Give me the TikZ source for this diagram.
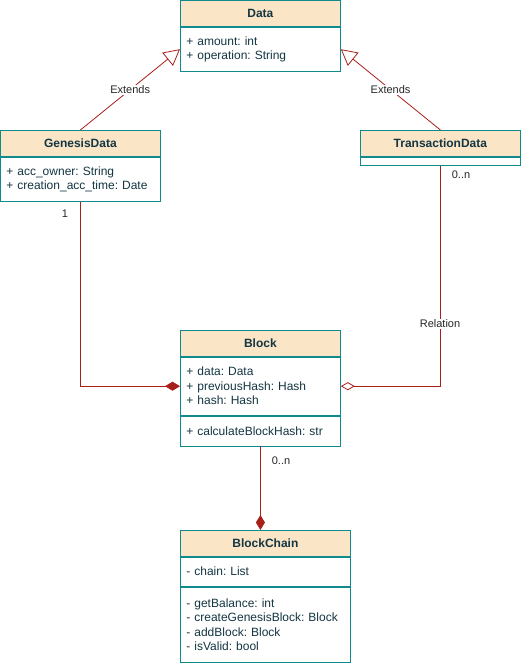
\documentclass[tikz,border=0pt]{standalone}
\usepackage{fontspec}
\setmainfont{Liberation Sans}
\usetikzlibrary{arrows.meta,positioning}
\definecolor{umlfill}{HTML}{FAE5C7}
\definecolor{umlline}{HTML}{0F8B8D}
\definecolor{umltext}{HTML}{143642}
\definecolor{umledge}{HTML}{A8201A}
\frenchspacing

\begin{document}
\begin{tikzpicture}[x=1bp,y=-1bp,
  classhead/.style={draw=umlline,fill=umlfill,text=umltext,font=\fontsize{12bp}{14bp}\selectfont\bfseries,
    minimum height=26bp,inner sep=0pt,anchor=north west,line width=0.8bp},
  classpart/.style={draw=umlline,fill=white,text=umltext,font=\fontsize{12bp}{14.5bp}\selectfont,
    align=left,inner xsep=6bp,inner ysep=0pt,anchor=north,line width=0.8bp},
  link/.style={draw=umledge,line width=0.8bp},
  linklabel/.style={font=\fontsize{11bp}{13bp}\selectfont,text=black!85,fill=white,inner sep=1bp},
  extends/.style={link,-{Triangle[open,length=16bp,width=17bp,fill=white]}},
  composed/.style={link,-{Diamond[length=15bp,width=9bp,fill=umledge]}},
  aggregated/.style={link,-{Diamond[open,length=14bp,width=8bp,fill=white]}}]
\useasboundingbox (0,0) rectangle (521,664);
% classes
\node[classhead,minimum width=160bp] (data) at (180,0) {Data};
\node[classpart,text width=148bp,minimum height=44bp] (dataattr) at (data.south) {+ amount: int\\+ operation: String};
\node[classhead,minimum width=160bp] (gen) at (0,130) {GenesisData};
\node[classpart,text width=148bp,minimum height=44bp] (genattr) at (gen.south) {+ acc\_owner: String\\+ creation\_acc\_time: Date};
\node[classhead,minimum width=160bp] (trans) at (360,130) {TransactionData};
\node[classpart,text width=148bp,minimum height=8bp] (transattr) at (trans.south) {};
\node[classhead,minimum width=160bp] (block) at (180,330) {Block};
\node[classpart,text width=148bp,minimum height=58bp] (blockattr) at (block.south) {+ data: Data\\+ previousHash: Hash\\+ hash: Hash};
\node[classpart,text width=148bp,minimum height=30bp,text depth=-3bp] (blockmeth) at (blockattr.south) {+ calculateBlockHash: str};
\node[classhead,minimum width=170bp] (chain) at (180,530) {BlockChain};
\node[classpart,text width=158bp,minimum height=29bp] (chainattr) at (chain.south) {- chain: List};
\node[classpart,text width=158bp,minimum height=75bp] (chainmeth) at (chainattr.south) {- getBalance: int\\- createGenesisBlock: Block\\- addBlock: Block\\- isValid: bool};
% inheritance
\draw[extends] (gen.north) -- (dataattr.west) node[linklabel,midway]{Extends};
\draw[extends] (trans.north) -- (dataattr.east) node[linklabel,midway]{Extends};
% associations
\draw[composed] (genattr.south) |- (blockattr.west);
\node[linklabel] at (65,214) {1};
\draw[aggregated] (transattr.south) |- (blockattr.east);
\node[linklabel] at (461,175) {0..n};
\node[linklabel] at (440,324) {Relation};
\draw[composed] (blockmeth.south) -- (blockmeth.south |- chain.north);
\node[linklabel] at (281,461) {0..n};
\end{tikzpicture}
\end{document}
